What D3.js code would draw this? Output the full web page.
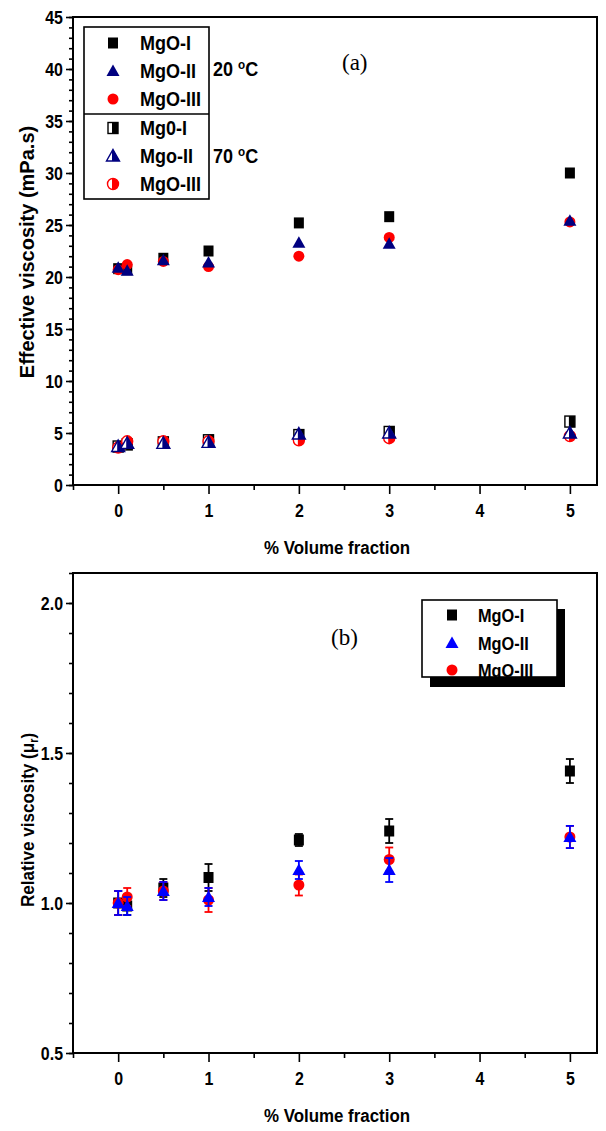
<!DOCTYPE html>
<html><head><meta charset="utf-8">
<script src="https://cdn.jsdelivr.net/npm/d3@7"></script>
<style>body{margin:0;background:#fff}</style>
</head><body>
<script>
// ---------- data ----------
const volumeFraction = [0, 0.1, 0.5, 1, 2, 3, 5];
// panel (a) effective viscosity (mPa.s)
const mgo1_20C = [20.8, 20.7, 21.8, 22.5, 25.2, 25.8, 30.0];
const mgo2_20C = [20.9, 20.6, 21.6, 21.4, 23.3, 23.2, 25.4];
const mgo3_20C = [20.7, 21.2, 21.5, 21.0, 22.0, 23.8, 25.3];
const mgo1_70C = [3.7, 3.9, 4.1, 4.3, 4.8, 5.1, 6.1];
const mgo2_70C = [3.7, 4.0, 4.0, 4.1, 4.9, 5.0, 5.0];
const mgo3_70C = [3.6, 4.2, 4.2, 4.2, 4.3, 4.5, 4.7];
// panel (b) relative viscosity with error
const rel1 = [1.00, 0.99, 1.05, 1.085, 1.21, 1.24, 1.44];
const err1 = [0.04, 0.03, 0.03, 0.045, 0.02, 0.04, 0.04];
const rel2 = [1.00, 0.99, 1.04, 1.02, 1.11, 1.11, 1.22];
const err2 = [0.04, 0.03, 0.03, 0.03, 0.03, 0.04, 0.037];
const rel3 = [1.00, 1.02, 1.04, 1.01, 1.06, 1.145, 1.22];
const err3 = [0.04, 0.03, 0.03, 0.04, 0.035, 0.04, 0.037];

const xTicks = [0, 1, 2, 3, 4, 5];
const xMinorTicks = [-0.5, 0.5, 1.5, 2.5, 3.5, 4.5];
const yTicksA = [0, 5, 10, 15, 20, 25, 30, 35, 40, 45];
const yMinorA = d3.range(0, 46, 1);
const yTicksB = [0.5, 1.0, 1.5, 2.0];
const yMinorB = d3.range(5, 22, 1).map(v => v / 10);

const legendA = ["MgO-I", "MgO-II", "MgO-III", "Mg0-I", "Mgo-II", "MgO-III"];
const legendB = ["MgO-I", "MgO-II", "MgO-III"];

// ---------- drawing ----------
const W = 606, H = 1131;
const FONT = "'Liberation Sans', Arial, Helvetica, sans-serif";
const svg = d3.select("body").append("svg").attr("width", W).attr("height", H)
  .style("font-family", FONT);

const defs = svg.append("defs");
defs.append("clipPath").attr("id", "rightHalf")
  .append("rect").attr("x", -1).attr("y", -12).attr("width", 14).attr("height", 24);

const NAVY = "#000080", BLUE = "#0000ff", RED = "#ff0000", BLACK = "#000000";

// condensed bold text placed at (x,y), optional rotation
function txt(parent, x, y, str, size, sx, anchor, rot) {
  const t = parent.append("text")
    .attr("transform", `translate(${x},${y})${rot ? ` rotate(${rot})` : ""} scale(${sx},1)`)
    .attr("text-anchor", anchor || "start")
    .style("font-size", size + "px").style("font-weight", "bold");
  if (str != null) t.text(str);
  return t;
}

function shape(g, type) {
  if (type === "square") return g.append("rect").attr("x", -5).attr("y", -5.5).attr("width", 10).attr("height", 11);
  if (type === "triangle") return g.append("path").attr("d", "M0,-6.5L6.5,5L-6.5,5Z");
  return g.append("circle").attr("r", 5.5);
}
function marker(parent, type, color, half, cx, cy) {
  const g = parent.append("g").attr("transform", `translate(${cx},${cy})`);
  if (half) {
    shape(g, type).attr("fill", "#fff").attr("stroke", color).attr("stroke-width", 1.4);
    shape(g, type).attr("fill", color).attr("clip-path", "url(#rightHalf)");
  } else {
    shape(g, type).attr("fill", color);
  }
}

function panel(cfg) {
  const x = d3.scaleLinear().domain([-0.5, 5.3]).range([73, 597]);
  const y = d3.scaleLinear().domain(cfg.yDomain).range([cfg.bottom, cfg.top]);
  const g = svg.append("g");

  // y axis
  const ya = g.append("g").attr("transform", "translate(73,0)");
  ya.append("g").call(d3.axisLeft(y).tickValues(cfg.yMinor).tickSize(4).tickFormat(""));
  const yMaj = ya.append("g").call(d3.axisLeft(y).tickValues(cfg.yMajor).tickSize(7).tickPadding(3).tickFormat(cfg.fmt));
  yMaj.selectAll(".tick text").attr("x", 0).attr("transform", "translate(-10,0) scale(0.84,1)");
  // x axis
  const xa = g.append("g").attr("transform", `translate(0,${cfg.bottom})`);
  xa.append("g").call(d3.axisBottom(x).tickValues(xMinorTicks).tickSize(5).tickFormat(""));
  const xMaj = xa.append("g").call(d3.axisBottom(x).tickValues(xTicks).tickSize(9).tickPadding(10).tickFormat(d3.format("d")));
  xMaj.selectAll(".tick text").attr("transform", "scale(0.84,1)");
  g.selectAll(".domain").remove();
  g.selectAll(".tick line").attr("stroke", "#000").attr("stroke-width", 1.6);
  g.selectAll(".tick text").attr("fill", "#000").style("font-size", "19px").style("font-weight", "bold").style("font-family", FONT);

  // frame
  g.append("rect").attr("x", 73).attr("y", cfg.top).attr("width", 597 - 73).attr("height", cfg.bottom - cfg.top)
    .attr("fill", "none").attr("stroke", "#000").attr("stroke-width", 2);

  // x title
  txt(g, 337, cfg.bottom + 69, "% Volume fraction", 19, 0.89, "middle");
  return { g, x, y };
}

// ---------- panel (a) ----------
{
  const { g, x, y } = panel({ top: 17, bottom: 485, yDomain: [0, 45], yMajor: yTicksA, yMinor: yMinorA, fmt: d3.format("d") });
  txt(g, 34, 252, "Effective viscosity (mPa.s)", 20, 1.0, "middle", -90);

  const seriesA = [
    { v: mgo1_20C, t: "square", c: BLACK, h: false },
    { v: mgo3_20C, t: "circle", c: RED, h: false },
    { v: mgo2_20C, t: "triangle", c: NAVY, h: false },
    { v: mgo1_70C, t: "square", c: BLACK, h: true },
    { v: mgo3_70C, t: "circle", c: RED, h: true },
    { v: mgo2_70C, t: "triangle", c: NAVY, h: true },
  ];
  seriesA.forEach(s => s.v.forEach((v, i) => marker(g, s.t, s.c, s.h, x(volumeFraction[i]), y(v))));

  // legend
  const lg = g.append("g");
  lg.append("rect").attr("x", 84).attr("y", 27).attr("width", 125).attr("height", 172)
    .attr("fill", "#fff").attr("stroke", "#000").attr("stroke-width", 1.6);
  lg.append("line").attr("x1", 84).attr("x2", 209).attr("y1", 114).attr("y2", 114).attr("stroke", "#000").attr("stroke-width", 1.6);
  const legTypes = [["square", BLACK, false], ["triangle", NAVY, false], ["circle", RED, false],
                    ["square", BLACK, true], ["triangle", NAVY, true], ["circle", RED, true]];
  const legY = [43, 71, 99, 128, 156, 184];
  legendA.forEach((name, i) => {
    marker(lg, legTypes[i][0], legTypes[i][1], legTypes[i][2], 113, legY[i]);
    txt(lg, 140, legY[i] + 7, name, 20, 0.9);
  });
  const t20 = txt(lg, 213, 76, null, 20, 0.9);
  t20.append("tspan").text("20 ");
  t20.append("tspan").attr("dy", -7).style("font-size", "13px").text("o");
  t20.append("tspan").attr("dy", 7).text("C");
  const t70 = txt(lg, 213, 163, null, 20, 0.9);
  t70.append("tspan").text("70 ");
  t70.append("tspan").attr("dy", -7).style("font-size", "13px").text("o");
  t70.append("tspan").attr("dy", 7).text("C");

  g.append("text").attr("x", 342).attr("y", 70).style("font-family", "'Liberation Serif', 'Times New Roman', serif")
    .style("font-size", "23px").text("(a)");
}

// ---------- panel (b) ----------
{
  const { g, x, y } = panel({ top: 573, bottom: 1053, yDomain: [0.5, 2.1], yMajor: yTicksB, yMinor: yMinorB, fmt: d3.format(".1f") });
  const yt = txt(g, 34, 820, null, 19, 0.9, "middle", -90);
  yt.append("tspan").text("Relative viscosity (\u03BC");
  yt.append("tspan").attr("dy", 4).style("font-size", "12px").text("r");
  yt.append("tspan").attr("dy", -4).text(")");

  const seriesB = [
    { v: rel1, e: err1, t: "square", c: BLACK },
    { v: rel3, e: err3, t: "circle", c: RED },
    { v: rel2, e: err2, t: "triangle", c: BLUE },
  ];
  seriesB.forEach(s => {
    s.v.forEach((v, i) => {
      const cx = x(volumeFraction[i]);
      const eg = g.append("g").attr("stroke", s.c).attr("stroke-width", 1.8);
      eg.append("line").attr("x1", cx).attr("x2", cx).attr("y1", y(v - s.e[i])).attr("y2", y(v + s.e[i]));
      [v - s.e[i], v + s.e[i]].forEach(ev =>
        eg.append("line").attr("x1", cx - 4).attr("x2", cx + 4).attr("y1", y(ev)).attr("y2", y(ev)));
      marker(g, s.t, s.c, false, cx, y(v));
    });
  });

  // legend with shadow
  const lg = g.append("g");
  lg.append("rect").attr("x", 430).attr("y", 609).attr("width", 135).attr("height", 78).attr("fill", "#000");
  lg.append("rect").attr("x", 422).attr("y", 600).attr("width", 135).attr("height", 77)
    .attr("fill", "#fff").attr("stroke", "#000").attr("stroke-width", 1.6);
  const legTypes = [["square", BLACK], ["triangle", BLUE], ["circle", RED]];
  const legY = [615, 643, 670];
  legendB.forEach((name, i) => {
    marker(lg, legTypes[i][0], legTypes[i][1], false, 452, legY[i]);
    txt(lg, 478, legY[i] + 7, name, 19, 0.86);
  });

  g.append("text").attr("x", 331).attr("y", 645).style("font-family", "'Liberation Serif', 'Times New Roman', serif")
    .style("font-size", "23px").text("(b)");
}
</script>
</body></html>
